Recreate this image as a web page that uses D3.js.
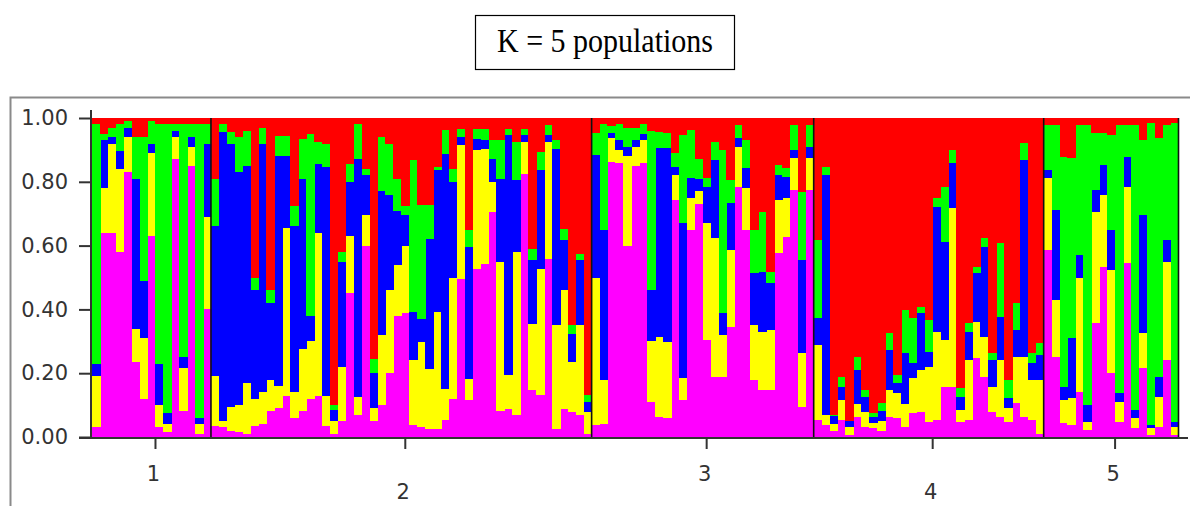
<!DOCTYPE html>
<html><head><meta charset="utf-8">
<script src="https://cdn.jsdelivr.net/npm/d3@7"></script>
<style>body{margin:0;background:#fff} svg{display:block}</style>
</head><body>
<svg id="c" width="1190" height="506"></svg>
<script>
const title = "K = 5 populations";
const popLabels = ["1","2","3","4","5"];
const popSizes = [15,48,28,29,17];
const yTicks = [0,0.2,0.4,0.6,0.8,1.0];
const clusterKeys = ["magenta","yellow","blue","green","red"];
const clusterColors = ["#ff00ff","#ffff00","#0000ff","#00ff00","#ff0000"];

// membership coefficients per individual (populations 1..5 in order)
const magenta = [
 .03,.64,.64,.58,.83,.235,.12,.63,.03,.015,.87,.08,.85,.01,.40,
 .035,.03,.02,.015,.01,.035,.04,.08,.09,.13,.06,.08,.12,.13,.035,.01,.05,.45,.07,.60,.05,.10,.20,.38,.39,.037,.031,.026,.026,.052,.12,.496,.115,.528,.54,.705,.08,.089,.068,.825,.146,.131,.559,.026,.089,.078,.068,.01,
 .038,.04,.863,.86,.60,.85,.86,.11,.064,.059,.743,.116,.649,.73,.304,.189,.189,.345,.785,.649,.179,.147,.147,.576,.628,.774,.095,.774,
 .053,.038,.02,.053,.005,.064,.032,.027,.02,.064,.059,.032,.074,.079,.048,.053,.158,.158,.048,.053,.247,.189,.079,.064,.048,.106,.064,.053,.009,
 .586,.252,.043,.038,.142,.022,.356,.534,.20,.048,.544,.027,.215,.006,.032,.241,.006];
const yellow = [
 .16,.14,.28,.26,.11,.105,.19,.26,.07,.025,.07,.135,.06,.03,.29,
 .155,.02,.075,.085,.16,.085,.10,.10,.07,.525,.08,.195,.18,.51,.095,.04,.17,.18,.055,.095,.04,.22,.26,.16,.21,.203,.267,.188,.366,.10,.38,.419,.068,.371,.36,.094,.47,.104,.512,.10,.209,.397,.366,.324,.371,.157,.282,.068,
 .459,.14,.073,.04,.28,.06,.07,.19,.251,.24,.078,.068,.099,.04,.366,.434,.131,.241,.125,.131,.172,.183,.188,.167,.12,.10,.167,.10,
 .235,.031,.02,.063,.025,.041,.047,.017,.03,.083,.078,.073,.11,.131,.172,.277,.146,.559,.037,.188,.115,.126,.079,.177,.042,.146,.188,.126,.17,
 .225,.177,.073,.083,.355,.026,.35,.225,.324,.063,.241,.032,.11,.021,.094,.309,.026];
const blue = [
 .04,.15,.02,.055,.03,.47,.18,.03,.13,.035,.02,.035,.03,.02,.23,
 .47,.905,.825,.73,.68,.34,.78,.24,.72,.225,.52,.535,.08,.215,.715,.035,.33,.17,.745,.125,.11,.45,.30,.17,.095,.152,.073,.408,.444,.736,.30,.026,.413,.036,.03,.073,.26,.753,.225,.021,.199,.308,.021,.554,.157,.089,.204,.032,
 .387,.47,.016,.03,.03,.02,.02,.16,.59,.606,.026,.486,.063,.04,.115,.245,.068,.147,.026,.062,.162,.188,.147,.078,.068,.026,.293,.036,
 .084,.752,.025,.042,.02,.105,.047,.02,.031,.126,.031,.157,.047,.178,.048,.392,.308,.141,.041,.089,.151,.282,.083,.136,.031,.083,.616,.052,.078,
 .026,.283,.042,.188,.074,.052,.068,.094,.125,.026,.094,.026,.371,.011,.063,.068,.016];
const green = [
 .75,.02,.03,.085,.02,.13,.45,.07,.75,.905,.02,.73,.04,.92,.06,
 .15,.025,.035,.11,.11,.04,.05,.04,.065,.065,.065,.125,.57,.07,.075,.015,.03,.057,.11,.02,.045,.17,.16,.10,.03,.475,.355,.104,.01,.073,.04,.026,.052,.032,.035,.058,.12,.021,.12,.021,.036,.057,.031,.026,.036,.026,.021,.021,
 .068,.33,.024,.05,.06,.04,.03,.50,.052,.047,.042,.277,.152,.06,.026,.058,.512,.073,.042,.089,.136,.188,.036,.032,.026,.078,.214,.068,
 .246,.026,.005,.031,0,.042,.021,.01,.026,.052,.026,.136,.141,.021,.099,.026,.173,.042,.027,.026,.021,.026,.021,.23,.058,.084,.053,.031,.037,
 .141,.266,.721,.565,.407,.878,.178,.099,.298,.841,.099,.893,.235,.945,.747,.36,.935];
const red = [
 .02,.05,.03,.02,.01,.06,.06,.01,.02,.02,.02,.02,.02,.02,.02,
 .19,.02,.045,.06,.04,.50,.03,.54,.055,.055,.275,.065,.05,.075,.08,.90,.42,.143,.02,.16,.755,.06,.08,.19,.275,.133,.274,.274,.154,.039,.16,.033,.352,.033,.033,.07,.07,.033,.075,.033,.41,.107,.023,.07,.347,.65,.425,.869,
 .048,.02,.024,.02,.03,.03,.02,.04,.043,.048,.111,.053,.037,.13,.189,.074,.10,.194,.022,.069,.351,.294,.482,.147,.158,.022,.231,.022,
 .382,.153,.93,.811,.95,.748,.853,.926,.894,.675,.806,.602,.628,.591,.633,.252,.215,.10,.847,.644,.466,.377,.738,.393,.821,.581,.079,.738,.706,
 .022,.022,.121,.126,.022,.022,.048,.048,.053,.022,.022,.022,.069,.017,.064,.022,.017];

const series = {magenta, yellow, blue, green, red};
const n = magenta.length;
const rows = d3.range(n).map(i => {
  const o = {i};
  clusterKeys.forEach(k => o[k] = series[k][i]);
  return o;
});
const stacked = d3.stack().keys(clusterKeys).offset(d3.stackOffsetExpand)(rows);
const color = d3.scaleOrdinal().domain(clusterKeys).range(clusterColors);

const svg = d3.select("#c");
const x0 = 92, x1 = 1178.5, yTop = 118, yBot = 437;
const x = d3.scaleBand().domain(d3.range(n)).range([x0, x1]).padding(0);
const y = d3.scaleLinear().domain([0, 1]).range([yBot, yTop]);

// outer frame
svg.append("rect").attr("x", 10.5).attr("y", 97.5).attr("width", 1200).attr("height", 500)
  .attr("fill", "none").attr("stroke", "#8a8a8a").attr("stroke-width", 2);

// title box
svg.append("rect").attr("x", 475.5).attr("y", 15.5).attr("width", 259).attr("height", 54)
  .attr("fill", "#fff").attr("stroke", "#000").attr("stroke-width", 1.2);
svg.append("text").attr("x", 497).attr("y", 52)
  .attr("font-family", "Liberation Serif, serif").attr("font-size", 33)
  .attr("textLength", 216).attr("lengthAdjust", "spacingAndGlyphs")
  .attr("fill", "#000").text(title);

// bars
svg.append("g").attr("shape-rendering", "crispEdges")
  .selectAll("g").data(stacked).join("g").attr("fill", d => color(d.key))
  .selectAll("rect").data(d => d).join("rect")
  .attr("x", d => x(d.data.i))
  .attr("width", x.bandwidth() + 0.6)
  .attr("y", d => y(d[1]))
  .attr("height", d => y(d[0]) - y(d[1]));

// population boundaries
const bounds = Array.from(d3.cumsum(popSizes));
svg.append("g").selectAll("line").data(bounds).join("line")
  .attr("x1", d => d >= n ? x1 : x(d)).attr("x2", d => d >= n ? x1 : x(d))
  .attr("y1", yTop).attr("y2", yBot)
  .attr("stroke", "#111").attr("stroke-width", 1.6);

// y axis
const yAxis = d3.axisLeft(y).tickValues(yTicks).tickFormat(d3.format(".2f"))
  .tickSize(12).tickPadding(11).tickSizeOuter(0);
const gy = svg.append("g").attr("transform", `translate(${x0 - 1},0)`).call(yAxis);
gy.select(".domain").remove();
gy.selectAll(".tick line").attr("stroke", "#333").attr("stroke-width", 2);
gy.selectAll(".tick text").attr("font-family", "DejaVu Sans, sans-serif")
  .attr("font-size", 21).attr("fill", "#333");
svg.append("line").attr("x1", x0 - 1).attr("x2", x0 - 1).attr("y1", yTop - 8).attr("y2", yBot)
  .attr("stroke", "#333").attr("stroke-width", 2);

// x axis
svg.append("line").attr("x1", 79).attr("x2", 1188).attr("y1", yBot + 1).attr("y2", yBot + 1)
  .attr("stroke", "#333").attr("stroke-width", 2);
const starts = [0, ...bounds.slice(0, -1)];
const mids = popSizes.map((s, k) => {
  const a = x(starts[k]);
  const b = starts[k] + s >= n ? x1 : x(starts[k] + s);
  return (a + b) / 2 + 4;
});
const gx = svg.append("g");
gx.selectAll("line").data(mids).join("line")
  .attr("x1", d => d).attr("x2", d => d).attr("y1", yBot + 1).attr("y2", yBot + 12)
  .attr("stroke", "#333").attr("stroke-width", 2);
gx.selectAll("text").data(popLabels).join("text")
  .attr("x", (d, k) => mids[k] - 2)
  .attr("y", (d, k) => k % 2 === 0 ? 481 : 499)
  .attr("text-anchor", "middle")
  .attr("font-family", "DejaVu Sans, sans-serif").attr("font-size", 21)
  .attr("fill", "#333").text(d => d);
</script>
</body></html>
